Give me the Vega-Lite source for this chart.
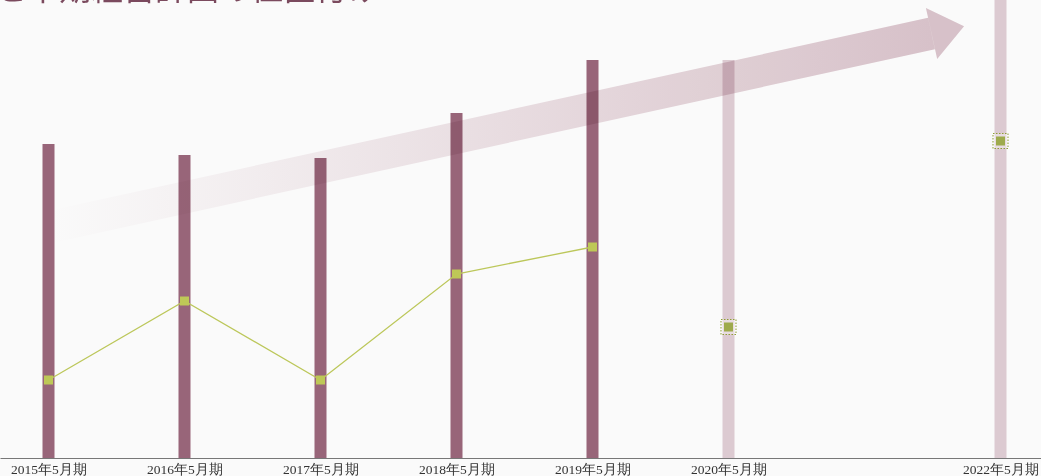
{
  "$schema": "https://vega.github.io/schema/vega-lite/v6.json",
  "width": 1041,
  "height": 458,
  "autosize": {"type": "none"},
  "padding": {"left": 0, "top": 0, "right": 0, "bottom": 18},
  "background": "#fafafa",
  "config": {
    "view": {"stroke": null},
    "axis": {"grid": false}
  },
  "datasets": {
    "bars": [
      {"year": 2015, "value": 314, "kind": "actual"},
      {"year": 2016, "value": 303, "kind": "actual"},
      {"year": 2017, "value": 300, "kind": "actual"},
      {"year": 2018, "value": 345, "kind": "actual"},
      {"year": 2019, "value": 398, "kind": "actual"},
      {"year": 2020, "value": 398, "kind": "plan"},
      {"year": 2022, "value": 458, "kind": "plan"}
    ],
    "metric": [
      {"year": 2015, "value": 78, "kind": "actual"},
      {"year": 2016, "value": 157, "kind": "actual"},
      {"year": 2017, "value": 78, "kind": "actual"},
      {"year": 2018, "value": 184, "kind": "actual"},
      {"year": 2019, "value": 211, "kind": "actual"},
      {"year": 2020, "value": 131, "kind": "plan"},
      {"year": 2022, "value": 317, "kind": "plan"}
    ],
    "arrow": [
      {"x": 2015.011, "y": 231, "order": 0},
      {"x": 2021.4926, "y": 424.5, "order": 1}
    ],
    "arrowhead": [
      {"x": 2021.6125, "y": 428.1}
    ],
    "heading": [
      {"x": 2014.6434, "y": 458.5, "text": "と中期経営計画の位置付け"}
    ]
  },
  "layer": [
    {
      "data": {"name": "bars"},
      "mark": {"type": "bar", "size": 12},
      "encoding": {
        "x": {
          "field": "year",
          "type": "quantitative",
          "scale": {"domain": [2014.6434, 2022.2978], "nice": false, "zero": false, "padding": 0},
          "axis": {
            "title": null,
            "values": [2015, 2016, 2017, 2018, 2019, 2020, 2022],
            "labelExpr": "format(datum.value, 'd') + '年5月期'",
            "ticks": false,
            "labelFont": "Liberation Serif",
            "labelFontSize": 13.5,
            "labelColor": "#333333",
            "labelPadding": 4,
            "labelFlush": false,
            "labelOverlap": false,
            "domainColor": "#777777",
            "domainWidth": 1
          }
        },
        "y": {
          "field": "value",
          "type": "quantitative",
          "scale": {"domain": [0, 458], "nice": false, "padding": 0},
          "axis": null
        },
        "color": {
          "field": "kind",
          "type": "nominal",
          "scale": {"domain": ["actual", "plan"], "range": ["#986579", "#dccad1"]},
          "legend": null
        }
      }
    },
    {
      "data": {"name": "heading"},
      "mark": {
        "type": "text",
        "align": "left",
        "baseline": "alphabetic",
        "dx": -5,
        "fontSize": 32,
        "font": "Noto Sans CJK JP",
        "color": "#7b4a5e"
      },
      "encoding": {
        "x": {"field": "x", "type": "quantitative"},
        "y": {"field": "y", "type": "quantitative"},
        "text": {"field": "text"}
      }
    },
    {
      "data": {"name": "arrow"},
      "mark": {
        "type": "line",
        "strokeWidth": 32,
        "strokeCap": "butt",
        "blend": "multiply",
        "stroke": {
          "gradient": "linear",
          "x1": 0, "y1": 0, "x2": 1, "y2": 0,
          "stops": [
            {"offset": 0, "color": "#ffffff"},
            {"offset": 1, "color": "#dcc5cd"}
          ]
        }
      },
      "encoding": {
        "x": {"field": "x", "type": "quantitative"},
        "y": {"field": "y", "type": "quantitative"},
        "order": {"field": "order"}
      }
    },
    {
      "data": {"name": "arrowhead"},
      "mark": {
        "type": "point",
        "shape": "M0.64,0L-0.64,-1L-0.64,1Z",
        "size": 2704,
        "angle": -12.5,
        "filled": true,
        "opacity": 1,
        "color": "#dcc5cd",
        "blend": "multiply",
        "strokeWidth": 0
      },
      "encoding": {
        "x": {"field": "x", "type": "quantitative"},
        "y": {"field": "y", "type": "quantitative"}
      }
    },
    {
      "data": {"name": "metric"},
      "transform": [{"filter": "datum.kind == 'actual'"}],
      "mark": {"type": "line", "color": "#bcc75a", "strokeWidth": 1.3},
      "encoding": {
        "x": {"field": "year", "type": "quantitative"},
        "y": {"field": "value", "type": "quantitative"}
      }
    },
    {
      "data": {"name": "metric"},
      "transform": [{"filter": "datum.kind == 'actual'"}],
      "mark": {"type": "point", "shape": "square", "filled": true, "size": 81, "color": "#bec857", "opacity": 1},
      "encoding": {
        "x": {"field": "year", "type": "quantitative"},
        "y": {"field": "value", "type": "quantitative"}
      }
    },
    {
      "data": {"name": "metric"},
      "transform": [{"filter": "datum.kind == 'plan'"}],
      "mark": {
        "type": "point",
        "shape": "square",
        "size": 225,
        "filled": false,
        "fill": "#ffffff",
        "fillOpacity": 0.35,
        "stroke": "#8f9c35",
        "strokeWidth": 1,
        "strokeDash": [1.5, 1.5],
        "opacity": 1
      },
      "encoding": {
        "x": {"field": "year", "type": "quantitative"},
        "y": {"field": "value", "type": "quantitative"}
      }
    },
    {
      "data": {"name": "metric"},
      "transform": [{"filter": "datum.kind == 'plan'"}],
      "mark": {"type": "point", "shape": "square", "filled": true, "size": 81, "color": "#9eaa4c", "opacity": 1},
      "encoding": {
        "x": {"field": "year", "type": "quantitative"},
        "y": {"field": "value", "type": "quantitative"}
      }
    }
  ]
}
